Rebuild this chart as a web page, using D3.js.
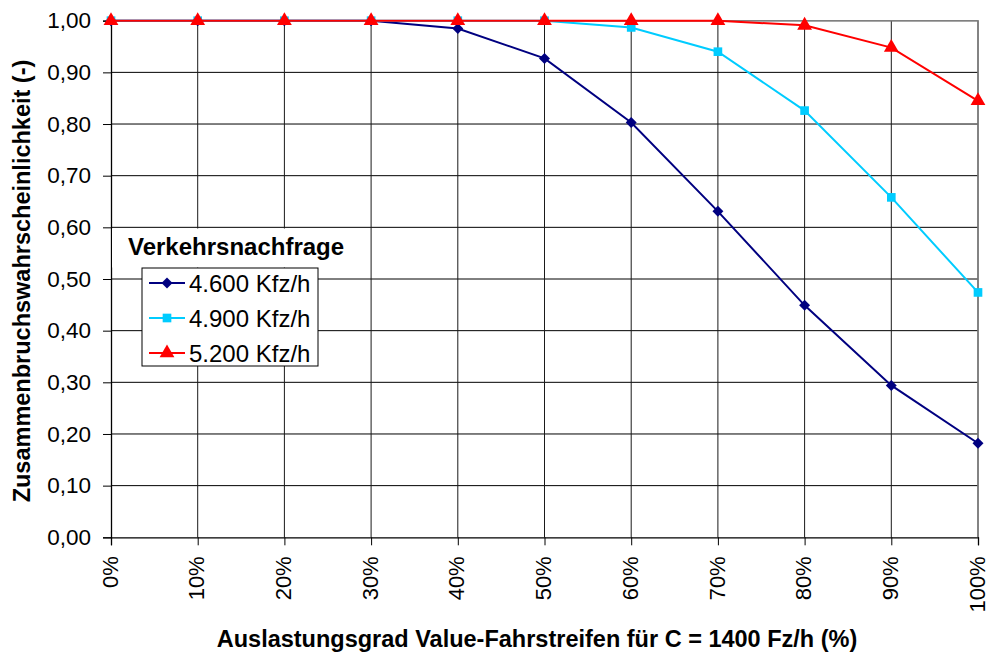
<!DOCTYPE html>
<html><head><meta charset="utf-8">
<script src="https://cdn.jsdelivr.net/npm/d3@7"></script>
<style>
html,body{margin:0;padding:0;background:#fff;}
text{font-family:"Liberation Sans",Arial,Helvetica,sans-serif;}
</style></head>
<body><svg id="c" width="989" height="656"></svg>
<script>
const categories = [0,10,20,30,40,50,60,70,80,90,100];
const s4600 = [1,1,1,1,0.985,0.927,0.803,0.631,0.449,0.294,0.182];
const s4900 = [1,1,1,1,1,1,0.987,0.940,0.826,0.658,0.474];
const s5200 = [1,1,1,1,1,1,1,1,0.991,0.948,0.845];
const seriesNames = ["4.600 Kfz/h","4.900 Kfz/h","5.200 Kfz/h"];
const yTicks = [0,0.1,0.2,0.3,0.4,0.5,0.6,0.7,0.8,0.9,1.0];
const legendTitle = "Verkehrsnachfrage";
const xTitle = "Auslastungsgrad Value-Fahrstreifen für C = 1400 Fz/h (%)";
const yTitle = "Zusammenbruchswahrscheinlichkeit (-)";

const svg = d3.select("#c");
const L = 111, R = 978, T = 20.7, B = 537.3;
const x = d3.scaleLinear().domain([0,100]).range([L,R]);
const y = d3.scaleLinear().domain([0,1]).range([B,T]);
const loc = d3.formatLocale({decimal:",",thousands:".",grouping:[3],currency:["","€"]});
const fy = loc.format(".2f");

// gridlines
const g = svg.append("g");
g.selectAll("line.h").data(yTicks.slice(1)).join("line")
  .attr("x1",L).attr("x2",R).attr("y1",d=>y(d)).attr("y2",d=>y(d))
  .attr("stroke","#000").attr("stroke-width",1);
g.selectAll("line.v").data(categories.slice(1)).join("line")
  .attr("x1",d=>x(d)).attr("x2",d=>x(d)).attr("y1",T).attr("y2",B)
  .attr("stroke","#1a1a1a").attr("stroke-width",1);
// plot border top/right gray
g.append("path").attr("d",`M${L},${T}H${R}V${B}`).attr("fill","none").attr("stroke","#808080").attr("stroke-width",1.5);

// axes
const yAxis = d3.axisLeft(y).tickValues(yTicks).tickFormat(fy).tickSize(8).tickPadding(12);
const ya = svg.append("g").attr("transform",`translate(${L},0)`).call(yAxis);
ya.select(".domain").attr("stroke","#000").attr("stroke-width",1.3);
ya.selectAll(".tick line").attr("stroke","#000");
ya.selectAll(".tick text").attr("font-size","22.5px").attr("fill","#000")
  .style("font-family","'Liberation Sans',Arial,sans-serif");

const xAxis = d3.axisBottom(x).tickValues(categories).tickFormat(d=>d+"%").tickSize(8).tickPadding(0);
const xa = svg.append("g").attr("transform",`translate(0,${B})`).call(xAxis);
xa.select(".domain").attr("stroke","#000").attr("stroke-width",1.3);
xa.selectAll(".tick line").attr("stroke","#000");
xa.selectAll(".tick text").attr("font-size","22px").attr("fill","#000")
  .style("font-family","'Liberation Sans',Arial,sans-serif")
  .attr("text-anchor","end").attr("transform","rotate(-90)")
  .attr("x",-19).attr("y",0).attr("dy","0.28em");

// series
const colors = ["#000080","#00CCFF","#FF0000"];
const diamond = {draw(ctx, size){ const r = Math.sqrt(size/2); ctx.moveTo(0,-r); ctx.lineTo(r,0); ctx.lineTo(0,r); ctx.lineTo(-r,0); ctx.closePath(); }};
const shapes = [diamond, d3.symbolSquare, d3.symbolTriangle];
const sizes = [60, 75, 95];
const allSeries = [s4600, s4900, s5200];
const line = d3.line().x((d,i)=>x(categories[i])).y(d=>y(d));
allSeries.forEach((s,k)=>{
  svg.append("path").datum(s).attr("d",line).attr("fill","none")
    .attr("stroke",colors[k]).attr("stroke-width",2);
  svg.append("g").selectAll("path").data(s).join("path")
    .attr("transform",(d,i)=>`translate(${x(categories[i])},${y(d)})`)
    .attr("d",d3.symbol().type(shapes[k]).size(sizes[k]))
    .attr("fill",colors[k]);
});

// legend title box
svg.append("rect").attr("x",112).attr("y",228.5).attr("width",245).attr("height",39).attr("fill","#fff");
svg.append("text").attr("x",128).attr("y",255).attr("font-size","24px").attr("font-weight","bold")
  .attr("fill","#000").text(legendTitle);
// legend box
const lg = svg.append("g");
lg.append("rect").attr("x",142).attr("y",268).attr("width",176).attr("height",98)
  .attr("fill","#fff").attr("stroke","#000").attr("stroke-width",1);
seriesNames.forEach((n,k)=>{
  const cy = 283 + k*35;
  lg.append("line").attr("x1",149).attr("x2",185).attr("y1",cy).attr("y2",cy)
    .attr("stroke",colors[k]).attr("stroke-width",2);
  lg.append("path").attr("transform",`translate(167,${cy})`)
    .attr("d",d3.symbol().type(shapes[k]).size(sizes[k])).attr("fill",colors[k]);
  lg.append("text").attr("x",189).attr("y",cy).attr("dy","0.36em").attr("font-size","24px")
    .attr("fill","#000").text(n);
});

// titles
svg.append("text").attr("x",537).attr("y",647).attr("text-anchor","middle")
  .attr("font-size","23.5px").attr("font-weight","bold").attr("fill","#000").text(xTitle);
svg.append("text").attr("transform","translate(30,281) rotate(-90)").attr("text-anchor","middle")
  .attr("font-size","23.5px").attr("font-weight","bold").attr("fill","#000").text(yTitle);
</script></body></html>
